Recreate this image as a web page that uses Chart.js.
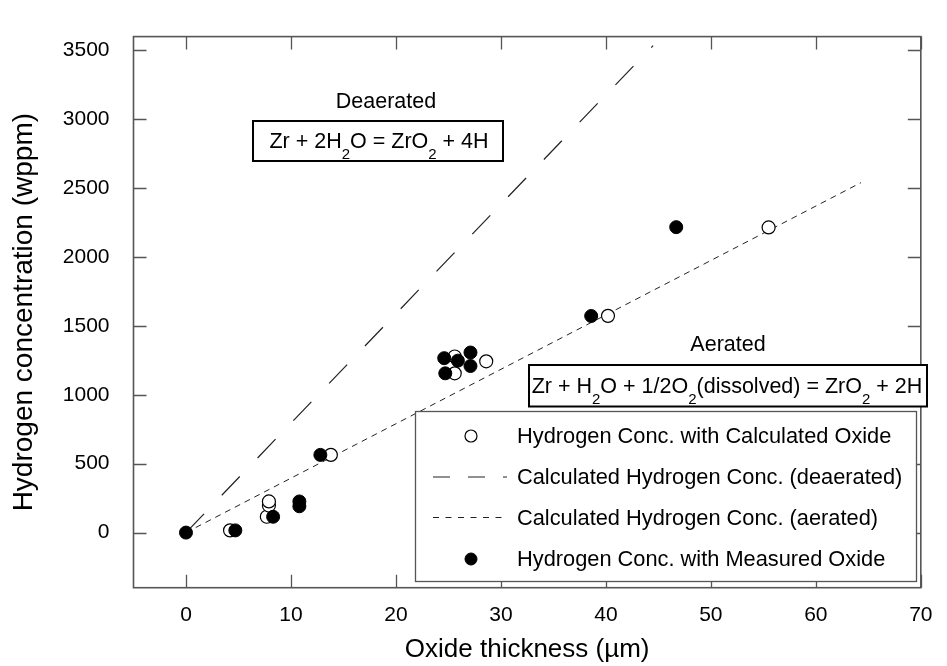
<!DOCTYPE html>
<html>
<head>
<meta charset="utf-8">
<script src="https://cdn.jsdelivr.net/npm/chart.js@4.4.0/dist/chart.umd.min.js"></script>
<style>
  html, body { margin: 0; padding: 0; background: #fff; }
  canvas { display: block; }
</style>
</head>
<body>
<canvas id="chart" width="947" height="666"></canvas>
<script>
// values
const calcOxideX = [4.2, 7.7, 7.9, 7.9, 13.8, 25.6, 25.6, 28.6, 40.2, 55.5];
const calcOxideH = [16, 115, 196, 226, 564, 1278, 1156, 1243, 1573, 2215];

const measOxideX = [0, 4.7, 8.3, 10.8, 10.8, 12.8, 24.6, 25.9, 27.1, 27.1, 24.7, 38.6, 46.7];
const measOxideH = [0, 16, 115, 191, 226, 564, 1266, 1248, 1307, 1209, 1156, 1572, 2217];

const deaerLineX = [0, 44.5];
const deaerLineH = [0, 3535];
const aerLineX = [0, 64.3];
const aerLineH = [0, 2540];

const xTicks = [0, 10, 20, 30, 40, 50, 60, 70];
const yTicks = [0, 500, 1000, 1500, 2000, 2500, 3000, 3500];

const FONT = "'Liberation Sans', Arial, sans-serif";
Chart.defaults.font.family = FONT;

const toPts = (xs, ys) => xs.map((x, i) => ({ x: x, y: ys[i] }));

// frame + inward ticks on all four sides
const framePlugin = {
  id: 'frame',
  beforeDatasetsDraw(chart) {
    const { ctx, chartArea: a, scales } = chart;
    const tl = 13;
    ctx.save();
    ctx.strokeStyle = '#555';
    ctx.lineWidth = 1.3;
    xTicks.forEach(v => {
      const px = Math.round(scales.x.getPixelForValue(v)) + 0.5;
      ctx.beginPath();
      ctx.moveTo(px, a.bottom); ctx.lineTo(px, a.bottom - tl);
      ctx.moveTo(px, a.top); ctx.lineTo(px, a.top + tl);
      ctx.stroke();
    });
    yTicks.forEach(v => {
      const py = Math.round(scales.y.getPixelForValue(v)) + 0.5;
      ctx.beginPath();
      ctx.moveTo(a.left, py); ctx.lineTo(a.left + tl, py);
      ctx.moveTo(a.right, py); ctx.lineTo(a.right - tl, py);
      ctx.stroke();
    });
    ctx.lineWidth = 1.6;
    ctx.strokeRect(a.left, a.top, a.right - a.left, a.bottom - a.top);
    ctx.restore();
  }
};

function drawChem(ctx, parts, cx, baseline) {
  const main = '21.5px ' + FONT, sub = '15px ' + FONT;
  let w = 0;
  parts.forEach(p => { ctx.font = p[1] ? sub : main; w += ctx.measureText(p[0]).width; });
  let x = cx - w / 2;
  ctx.textAlign = 'left';
  ctx.textBaseline = 'alphabetic';
  parts.forEach(p => {
    ctx.font = p[1] ? sub : main;
    ctx.fillText(p[0], x, p[1] ? baseline + 11 : baseline);
    x += ctx.measureText(p[0]).width;
  });
}

const overlayPlugin = {
  id: 'overlay',
  afterDatasetsDraw(chart) {
    const { ctx } = chart;
    ctx.save();
    ctx.fillStyle = '#000';
    ctx.strokeStyle = '#000';

    // reaction labels
    ctx.font = '21.5px ' + FONT;
    ctx.textAlign = 'center';
    ctx.textBaseline = 'alphabetic';
    ctx.fillText('Deaerated', 386, 108);
    ctx.fillText('Aerated', 728, 351);

    ctx.lineWidth = 2;
    ctx.fillStyle = '#fff';
    ctx.fillRect(253, 121, 250, 40);
    ctx.strokeRect(253, 121, 250, 40);
    ctx.fillRect(529, 365, 398, 41.5);
    ctx.strokeRect(529, 365, 398, 41.5);
    ctx.fillStyle = '#000';
    drawChem(ctx, [['Zr + 2H', false], ['2', true], ['O = ZrO', false], ['2', true], [' + 4H', false]], 379, 148);
    drawChem(ctx, [['Zr + H', false], ['2', true], ['O + 1/2O', false], ['2', true], ['(dissolved) = ZrO', false], ['2', true], [' + 2H', false]], 727, 393);

    // legend box
    const lx = 415.5, ly = 411.5, lw = 501, lh = 170;
    ctx.fillStyle = '#fff';
    ctx.fillRect(lx, ly, lw, lh);
    ctx.strokeStyle = '#555';
    ctx.lineWidth = 1.3;
    ctx.strokeRect(lx, ly, lw, lh);

    const rows = [436, 477, 517.5, 559];
    chart.data.datasets.forEach((ds, i) => {
      const y = rows[i];
      if (ds.showLine) {
        ctx.strokeStyle = ds.borderColor;
        ctx.lineWidth = ds.borderWidth;
        ctx.setLineDash(ds.legendDash);
        ctx.beginPath();
        ctx.moveTo(433, y); ctx.lineTo(507, y);
        ctx.stroke();
        ctx.setLineDash([]);
      } else {
        ctx.beginPath();
        ctx.arc(471, y, 6, 0, Math.PI * 2);
        ctx.fillStyle = ds.pointBackgroundColor;
        ctx.fill();
        ctx.strokeStyle = ds.pointBorderColor;
        ctx.lineWidth = ds.pointBorderWidth;
        ctx.stroke();
      }
      ctx.fillStyle = '#000';
      ctx.font = '21.8px ' + FONT;
      ctx.textAlign = 'left';
      ctx.textBaseline = 'middle';
      ctx.fillText(ds.label, 517, y + 1);
    });
    ctx.restore();
  }
};

new Chart(document.getElementById('chart'), {
  type: 'scatter',
  data: {
    datasets: [
      {
        label: 'Hydrogen Conc. with Calculated Oxide',
        data: toPts(calcOxideX, calcOxideH),
        pointRadius: 6.5,
        pointBackgroundColor: '#fff',
        pointBorderColor: '#000',
        pointBorderWidth: 1.2,
        order: 1
      },
      {
        label: 'Calculated Hydrogen Conc. (deaerated)',
        data: toPts(deaerLineX, deaerLineH),
        showLine: true,
        borderColor: '#222',
        borderWidth: 1.2,
        borderDash: [26, 25.7],
        legendDash: [17, 18],
        pointRadius: 0,
        order: 2
      },
      {
        label: 'Calculated Hydrogen Conc. (aerated)',
        data: toPts(aerLineX, aerLineH),
        showLine: true,
        borderColor: '#222',
        borderWidth: 1,
        borderDash: [6, 5],
        legendDash: [6, 6.5],
        pointRadius: 0,
        order: 2
      },
      {
        label: 'Hydrogen Conc. with Measured Oxide',
        data: toPts(measOxideX, measOxideH),
        pointRadius: 6.5,
        pointBackgroundColor: '#000',
        pointBorderColor: '#000',
        pointBorderWidth: 1,
        order: 0
      }
    ]
  },
  options: {
    responsive: false,
    animation: false,
    devicePixelRatio: 1,
    layout: { padding: { left: 0, right: 13, top: 9, bottom: 0 } },
    plugins: { legend: { display: false }, tooltip: { enabled: false } },
    scales: {
      x: {
        type: 'linear',
        min: -5,
        max: 70,
        afterBuildTicks: s => { s.ticks = xTicks.map(v => ({ value: v })); },
        afterFit: s => { s.height = 78.3; },
        grid: { display: false, drawTicks: false },
        border: { display: false },
        ticks: { padding: 14.5, color: '#000', font: { size: 21 }, callback: v => String(v) },
        title: {
          display: true,
          text: 'Oxide thickness (µm)',
          color: '#000',
          font: { size: 26 },
          padding: { top: 0, bottom: 0.5 }
        }
      },
      y: {
        type: 'linear',
        min: -400,
        max: 3600,
        afterBuildTicks: s => { s.ticks = yTicks.map(v => ({ value: v })); },
        afterFit: s => { s.width = 133.5; },
        grid: { display: false, drawTicks: false },
        border: { display: false },
        ticks: { padding: 24, color: '#000', font: { size: 21 }, callback: v => String(v) },
        title: {
          display: true,
          text: 'Hydrogen concentration (wppm)',
          color: '#000',
          font: { size: 28 },
          padding: { top: 7, bottom: 0 }
        }
      }
    }
  },
  plugins: [framePlugin, overlayPlugin]
});
</script>
</body>
</html>
